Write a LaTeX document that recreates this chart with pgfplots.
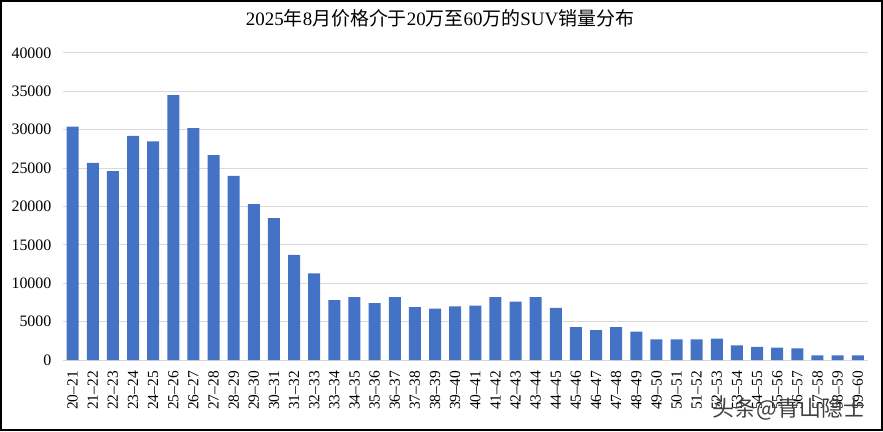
\documentclass[border=0pt]{standalone}
\usepackage{fontspec}
\setmainfont{Liberation Serif}
\newfontfamily\cjk{Noto Sans CJK SC}
\usepackage{pgfplots}
\pgfplotsset{compat=1.18}
\definecolor{barblue}{HTML}{4472C4}
\definecolor{gridgray}{HTML}{D9D9D9}
\pgfplotstableread{
x y
0 30400
1 25700
2 24600
3 29200
4 28500
5 34500
6 30200
7 26700
8 24000
9 20300
10 18500
11 13700
12 11300
13 7800
14 8200
15 7400
16 8200
17 6900
18 6700
19 7000
20 7100
21 8200
22 7600
23 8200
24 6800
25 4300
26 3900
27 4300
28 3700
29 2700
30 2700
31 2700
32 2800
33 1900
34 1700
35 1600
36 1500
37 600
38 600
39 600
}\salesdata
\begin{document}
\begin{tikzpicture}[x=1bp,y=1bp]
\path[use as bounding box] (0,0) rectangle (883,431);
\draw[line width=2bp] (1,1) rectangle (882,430);
\begin{axis}[
  at={(62.6bp,71bp)}, anchor=south west,
  scale only axis, width=805.2bp, height=307bp,
  xmin=-0.5, xmax=39.5, ymin=0, ymax=40000,
  ytick={0,5000,...,40000},
  scaled y ticks=false,
  /pgf/number format/.cd, fixed, set thousands separator={}, assume math mode=true,
  /pgfplots/.cd,
  xtick=data,
  xticklabels={20–21,21–22,22–23,23–24,24–25,25–26,26–27,27–28,28–29,29–30,30–31,31–32,32–33,33–34,34–35,35–36,36–37,37–38,38–39,39–40,40–41,41–42,42–43,43–44,44–45,45–46,46–47,47–48,48–49,49–50,50–51,51–52,52–53,53–54,54–55,55–56,56–57,57–58,58–59,59–60},
  xticklabel style={rotate=90, anchor=east, inner sep=0pt, font=\fontsize{15.5}{16}\selectfont},
  yticklabel style={anchor=east, inner sep=0pt, font=\fontsize{16}{16}\selectfont},
  xticklabel shift=11bp,
  yticklabel shift=11bp,
  major tick length=0pt,
  axis x line*=bottom, axis y line*=left,
  x axis line style={gridgray, line width=1bp},
  y axis line style={draw=none},
  ymajorgrids, grid style={gridgray, line width=1bp},
  ybar, bar width=12bp,
]
\addplot[fill=barblue, draw=none] table[x=x,y=y] {\salesdata};
\end{axis}
\node[font=\fontsize{19}{19}\selectfont] at (440,413) {2025{\cjk 年}8{\cjk 月价格介于}20{\cjk 万至}60{\cjk 万的}SUV{\cjk 销量分布}};
\node[font=\cjk\fontsize{22}{22}\selectfont, text=black!75] at (789,22) {头条@青山隐士};
\end{tikzpicture}
\end{document}
